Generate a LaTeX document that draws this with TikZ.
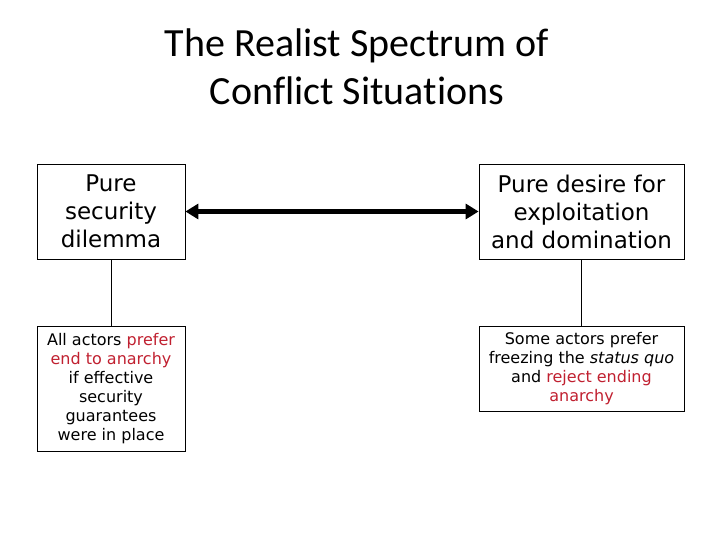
\documentclass[tikz,border=0pt]{standalone}
\usepackage{fontspec}
\setmainfont{DejaVu Sans}
\newfontfamily\titlefont[Ligatures={NoCommon}]{Carlito}
\usetikzlibrary{arrows.meta}
\definecolor{myred}{RGB}{192,32,48}
\begin{document}
\begin{tikzpicture}[x=1pt,y=-1pt,
  box/.style={draw=black,line width=0.8pt,align=center,inner sep=0pt,minimum height=#1},
  bigtxt/.style={font=\fontsize{23}{28}\selectfont},
  smalltxt/.style={font=\fontsize{16}{19}\selectfont},
  ttl/.style={font=\titlefont\fontsize{40}{48}\selectfont,anchor=base},
  conn/.style={draw=black,line width=0.6pt},
  dbl/.style={line width=4.5pt,{Triangle[length=13pt,width=15pt]}-{Triangle[length=13pt,width=15pt]}}]
\useasboundingbox (0,0) rectangle (720,540);
\node[ttl] (t1) at (357,57) {The Realist Spectrum of};
\node[ttl] (t2) at (357,105) {Conflict Situations};
\node[box=95pt,minimum width=148pt,bigtxt] (tl) at (111,211.5) {Pure\\security\\dilemma};
\node[box=95pt,minimum width=205pt,bigtxt] (tr) at (581.5,211.5) {Pure desire for\\exploitation\\and domination};
\node[box=125pt,minimum width=148pt,smalltxt] (bl) at (111,388.5) {All actors \textcolor{myred}{prefer}\\\textcolor{myred}{end to anarchy}\\if effective\\security\\guarantees\\were in place};
\node[box=85pt,minimum width=205pt,smalltxt] (br) at (581.5,368.5) {Some actors prefer\\freezing the \textit{status quo}\\and \textcolor{myred}{reject ending}\\\textcolor{myred}{anarchy}};
\draw[dbl] (tl.east) -- (tr.west);
\draw[conn] (tl.south) -- (bl.north);
\draw[conn] (tr.south) -- (br.north);
\end{tikzpicture}
\end{document}
